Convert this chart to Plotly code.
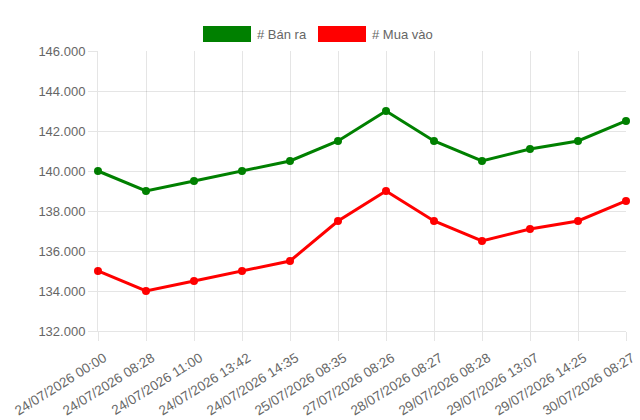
import plotly.graph_objects as go

labels = ["24/07/2026 00:00", "24/07/2026 08:28", "24/07/2026 11:00", "24/07/2026 13:42",
          "24/07/2026 14:35", "25/07/2026 08:35", "27/07/2026 08:26", "28/07/2026 08:27",
          "29/07/2026 08:28", "29/07/2026 13:07", "29/07/2026 14:25", "30/07/2026 08:27"]
ban_ra = [140000, 139000, 139500, 140000, 140500, 141500, 143000, 141500, 140500, 141100, 141500, 142500]
mua_vao = [135000, 134000, 134500, 135000, 135500, 137500, 139000, 137500, 136500, 137100, 137500, 138500]
series_names = ["# Bán ra", "# Mua vào"]
colors = ["#008000", "#ff0000"]

fig = go.Figure()
for name, vals, c in zip(series_names, [ban_ra, mua_vao], colors):
    fig.add_trace(go.Scatter(x=labels, y=vals, name=name, mode="lines+markers",
                             line=dict(color=c, width=3), marker=dict(color=c, size=8),
                             cliponaxis=False, showlegend=False))

W, H = 640, 420
ml, mr, mt, mb = 98, 14, 51, 89
grid = "rgba(0,0,0,0.1)"
font = dict(family="Liberation Sans, Arial, sans-serif", size=13, color="#666")
xfont = dict(family="Liberation Sans, Arial, sans-serif", size=13.5, color="#666")

fig.update_layout(
    width=W, height=H, margin=dict(l=ml, r=mr, t=mt, b=mb, autoexpand=False),
    paper_bgcolor="white", plot_bgcolor="white", separators=",.",
    font=font, showlegend=False,
    xaxis=dict(type="category", range=[0, len(labels) - 1], showgrid=True, gridcolor=grid,
               ticks="outside", ticklen=9, tickcolor=grid, tickangle=-32,
               ticklabelstandoff=4, ticklabelshift=6,
               showline=True, linecolor=grid, zeroline=False, tickfont=xfont),
    yaxis=dict(range=[132000, 146000], dtick=2000, tickformat=",", showgrid=True, gridcolor=grid,
               ticks="outside", ticklen=9, tickcolor=grid, showline=True, linecolor=grid,
               zeroline=False, tickfont=font),
)

# legend drawn as boxes + labels (Chart.js style)
legend_items = [(203, series_names[0], colors[0]), (318, series_names[1], colors[1])]
for x0, name, c in legend_items:
    fig.add_shape(type="rect", xref="paper", yref="paper",
                  x0=(x0 - ml) / (W - ml - mr), x1=(x0 + 48 - ml) / (W - ml - mr),
                  y0=1 + (mt - 42) / (H - mt - mb), y1=1 + (mt - 26) / (H - mt - mb),
                  fillcolor=c, line=dict(width=0))
    fig.add_annotation(xref="paper", yref="paper", x=(x0 + 52 - ml) / (W - ml - mr),
                       y=1 + (mt - 34) / (H - mt - mb), text=name, showarrow=False,
                       xanchor="left", yanchor="middle", font=dict(family=font["family"], size=13, color="#666"))

fig.write_html("out.html")
